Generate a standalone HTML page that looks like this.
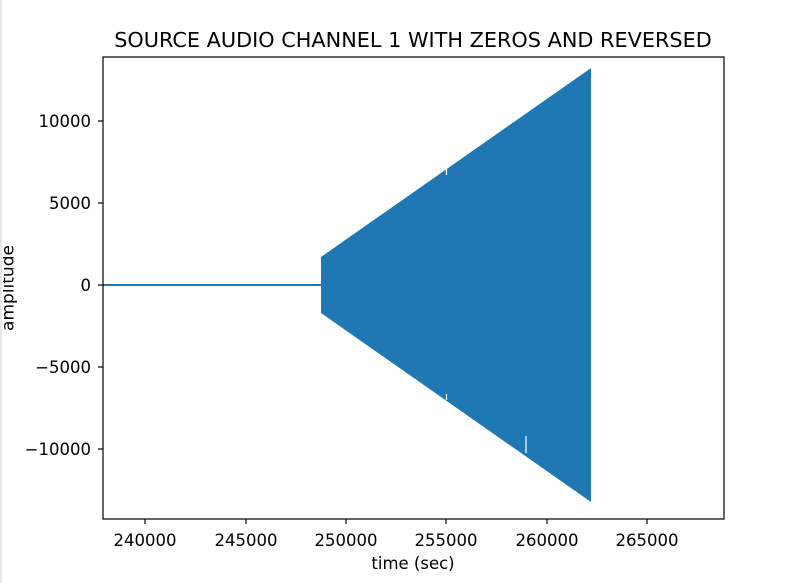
<!DOCTYPE html>
<html><head><meta charset="utf-8"><style>
html,body{margin:0;padding:0;background:#fff;}
svg{display:block;}
text{font-family:"DejaVu Sans","Liberation Sans",sans-serif;fill:#000;}
</style></head><body>
<svg width="788" height="583" viewBox="0 0 788 583" xmlns="http://www.w3.org/2000/svg">
<rect x="0" y="0" width="788" height="583" fill="#fff"/>
<text x="413" y="47" font-size="20.8" text-anchor="middle">SOURCE AUDIO CHANNEL 1 WITH ZEROS AND REVERSED</text>
<line x1="103" y1="285" x2="322" y2="285" stroke="#1f77b4" stroke-width="2"/>
<polygon points="321,257 591,68 591,502 321,313" fill="#1f77b4"/>
<line x1="446.5" y1="169" x2="446.5" y2="175" stroke="#fff" stroke-width="1.2"/>
<line x1="446.5" y1="394" x2="446.5" y2="400" stroke="#fff" stroke-width="1.2"/>
<line x1="526" y1="436" x2="526" y2="453" stroke="#fff" stroke-width="1.2"/>
<rect x="103" y="57" width="621" height="462" fill="none" stroke="#000" stroke-width="1.2"/>
<g stroke="#000" stroke-width="1.2">
<line x1="145" y1="519" x2="145" y2="524"/>
<line x1="246" y1="519" x2="246" y2="524"/>
<line x1="346" y1="519" x2="346" y2="524"/>
<line x1="446" y1="519" x2="446" y2="524"/>
<line x1="547" y1="519" x2="547" y2="524"/>
<line x1="647" y1="519" x2="647" y2="524"/>
<line x1="98" y1="121" x2="103" y2="121"/>
<line x1="98" y1="203" x2="103" y2="203"/>
<line x1="98" y1="285" x2="103" y2="285"/>
<line x1="98" y1="367" x2="103" y2="367"/>
<line x1="98" y1="449" x2="103" y2="449"/>
</g>
<g font-size="16.5" text-anchor="middle">
<text x="145" y="546">240000</text>
<text x="246" y="546">245000</text>
<text x="346" y="546">250000</text>
<text x="446" y="546">255000</text>
<text x="547" y="546">260000</text>
<text x="647" y="546">265000</text>
</g>
<g font-size="16.5" text-anchor="end">
<text x="91" y="127">10000</text>
<text x="91" y="209">5000</text>
<text x="91" y="291">0</text>
<text x="91" y="373">−5000</text>
<text x="91" y="455">−10000</text>
</g>
<text x="413" y="569" font-size="16.5" text-anchor="middle">time (sec)</text>
<text transform="translate(13.5,288) rotate(-90)" font-size="17" text-anchor="middle">amplitude</text>
<rect x="0" y="0" width="3" height="583" fill="#fff"/>
<line x1="1" y1="0" x2="1" y2="583" stroke="#d0d0d0" stroke-width="1"/>
</svg>
</body></html>
